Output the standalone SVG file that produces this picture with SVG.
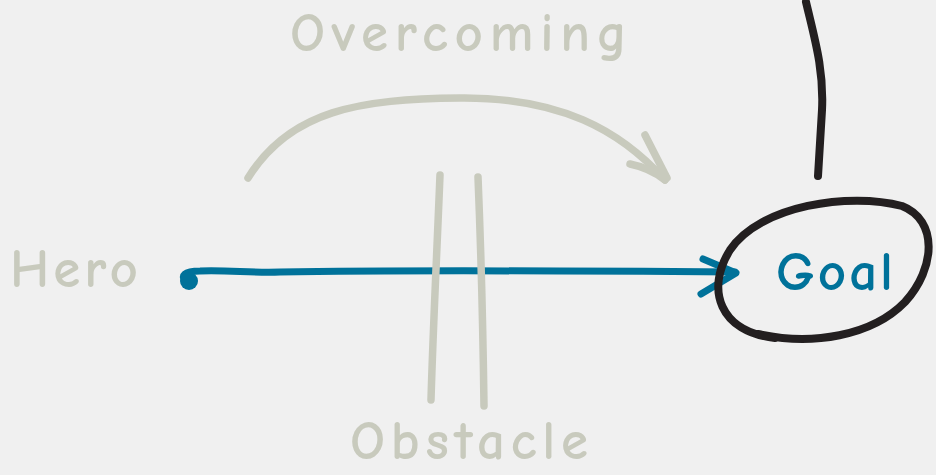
<svg xmlns="http://www.w3.org/2000/svg" width="936" height="475" viewBox="0 0 936 475">
<style>
.lbl{font-family:"Comic Neue","Noto Sans","Liberation Sans",sans-serif;font-size:55px;font-weight:700;}
.grey{fill:#c8cabd;}
.blue{fill:#00729a;}
.gs{fill:none;stroke:#c8cabd;stroke-width:7.5;stroke-linecap:round;stroke-linejoin:round;}
.bs{fill:none;stroke:#00729a;stroke-width:7;stroke-linecap:round;stroke-linejoin:round;}
.ks{fill:none;stroke:#231f20;stroke-width:8;stroke-linecap:round;stroke-linejoin:round;}
</style>
<rect width="936" height="475" fill="#f0f0f0"/>
<g id="connectors">
  <path class="gs" d="M248 178 C 290 110, 360 99, 460 98 C 560 97, 620 130, 665 180"/>
  <path class="gs" d="M645 135 L 667 178 M630 164 C 645 167, 655 172, 665 180"/>
  <path class="bs" d="M186 281 C 180 276, 184 271, 200 271 C 230 270, 250 273, 280 272 C 400 270, 600 271, 735 272"/>
  <circle cx="189" cy="281" r="9" fill="#00729a"/>
  <path class="bs" d="M703 259 L 736 273 L 701 294"/>
  <path class="ks" d="M806 2 C 815 40, 824 70, 822 110 L 818 176"/>
</g>
<g id="hero"><text class="lbl grey" x="10" y="287" textLength="128" lengthAdjust="spacing">Hero</text></g>
<g id="overcoming"><text class="lbl grey" x="290" y="51" textLength="337" lengthAdjust="spacing">Overcoming</text></g>
<g id="obstacle">
  <path class="gs" d="M440 175 C 437 250, 433 330, 431 400"/>
  <path class="gs" d="M478 177 C 481 250, 483 330, 484 406"/>
  <text class="lbl grey" x="350" y="459" font-size="54" textLength="238" lengthAdjust="spacing">Obstacle</text>
</g>
<g id="goal">
  <path class="ks" d="M775 338 C 720 332, 705 290, 730 250 C 760 205, 850 192, 902 206 C 938 220, 936 268, 905 302 C 872 336, 812 346, 758 334"/>
  <text class="lbl blue" x="776" y="290" textLength="117" lengthAdjust="spacing">Goal</text>
</g>
</svg>
